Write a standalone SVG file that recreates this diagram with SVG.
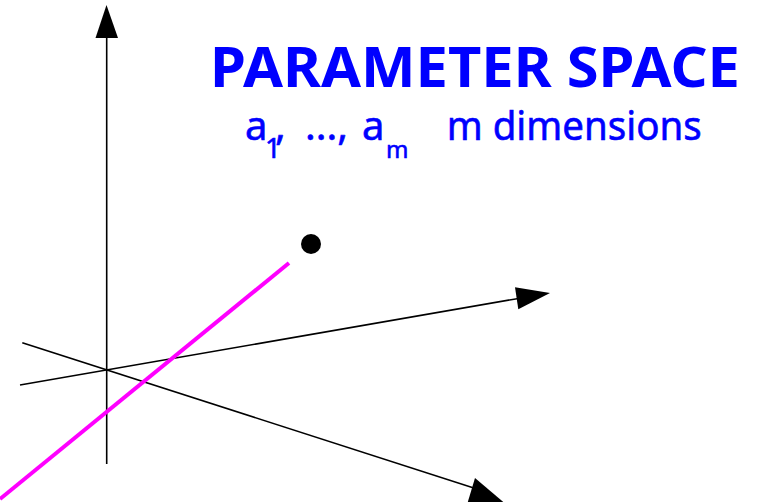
<svg xmlns="http://www.w3.org/2000/svg" width="765" height="502" viewBox="0 0 765 502">
<style>
.axis{stroke:#000;stroke-width:1.6;fill:none}
.head{fill:#000}
.t{fill:#0000ff;font-family:"Noto Sans","Open Sans","DejaVu Sans",sans-serif}
</style>
<rect width="765" height="502" fill="#fff"/>
<g id="connectors">
<line class="axis" x1="106.7" y1="464" x2="106.7" y2="36"/>
<polygon class="head" points="106.5,5 95.5,38 118,38"/>
<line class="axis" x1="20" y1="385" x2="520" y2="298.2"/>
<polygon class="head" points="550,293 515,287.3 518.3,309.3"/>
<line class="axis" x1="22.3" y1="342.7" x2="480" y2="490"/>
<polygon class="head" points="475,478 508,506 466,508"/>
<line x1="0" y1="499" x2="289" y2="263" stroke="#ff00ff" stroke-width="4"/>
</g>
<g id="point"><circle cx="311" cy="244" r="10" fill="#000"/></g>
<g id="title">
<text class="t" x="210" y="86.7" font-size="55" font-weight="bold" textLength="530" lengthAdjust="spacingAndGlyphs">PARAMETER SPACE</text>
</g>
<g id="subtitle">
<text class="t" font-size="40" stroke="#0000ff" stroke-width="0.6"><tspan x="245" y="140">a</tspan><tspan x="265" y="158" font-size="28">1</tspan><tspan x="275" y="140">,</tspan><tspan x="305" y="140">...,</tspan><tspan x="362" y="140">a</tspan><tspan x="386" y="158" font-size="24">m</tspan><tspan x="446.7" y="140" textLength="255" lengthAdjust="spacingAndGlyphs">m dimensions</tspan></text>
</g>
</svg>
